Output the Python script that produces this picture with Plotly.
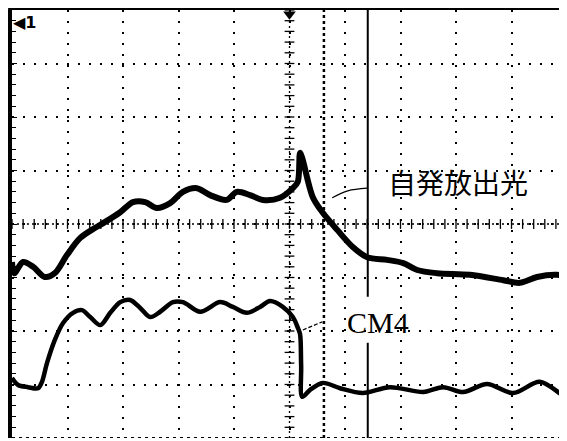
import plotly.graph_objects as go

# Horizontal position in divisions (0..10), vertical in divisions from centre (-4..4)
emission_t = [0, 0.04, 0.20, 0.38, 0.59, 0.77, 0.99, 1.23, 1.50, 1.68, 1.95, 2.18, 2.40, 2.61,
              2.85, 3.08, 3.33, 3.57, 3.87, 4.05, 4.29, 4.52, 4.83, 5.06, 5.15, 5.19, 5.23,
              5.42, 5.60, 5.86, 6.14, 6.40, 6.76, 7.05, 7.30, 7.66, 8.25, 8.85, 9.15, 9.46,
              9.82, 10.0]
emission_v = [-0.71, -0.92, -0.71, -0.80, -0.99, -0.92, -0.58, -0.26, -0.07, 0.04, 0.22, 0.41,
              0.41, 0.30, 0.39, 0.60, 0.67, 0.54, 0.45, 0.60, 0.54, 0.45, 0.49, 0.67, 0.79,
              1.33, 1.23, 0.50, 0.21, -0.11, -0.43, -0.62, -0.67, -0.73, -0.86, -0.92, -0.95,
              -1.05, -1.10, -0.99, -0.95, -0.99]

cm4_t = [0, 0.11, 0.29, 0.47, 0.54, 0.63, 0.77, 0.92, 1.10, 1.26, 1.41, 1.59, 1.77, 1.95,
         2.13, 2.31, 2.49, 2.67, 2.90, 3.08, 3.39, 3.75, 3.98, 4.23, 4.47, 4.65, 4.88, 5.06,
         5.15, 5.19, 5.21, 5.23, 5.37, 5.60, 5.91, 6.32, 6.81, 7.41, 7.77, 8.13, 8.56, 9.03,
         9.51, 9.93, 10.0]
cm4_v = [-2.88, -3.01, -3.05, -3.07, -2.95, -2.60, -2.17, -1.85, -1.66, -1.61, -1.74, -1.89,
         -1.66, -1.46, -1.42, -1.57, -1.74, -1.64, -1.46, -1.46, -1.64, -1.46, -1.55, -1.66,
         -1.55, -1.44, -1.55, -1.74, -1.94, -2.06, -2.65, -3.23, -3.10, -2.97, -3.07, -3.16,
         -3.05, -3.14, -3.05, -3.14, -2.99, -3.16, -2.95, -3.20, -3.21]

label_emission = "自発放出光"
label_cm4 = "CM4"
cursor_dotted_t = 5.62
cursor_solid_t = 6.41

X_DIV = 10
Y_DIV = 4

fig = go.Figure()

# centre graticule minor ticks
minor = [i / 5 for i in range(0, 5 * X_DIV + 1)]
minor_y = [-Y_DIV + i / 5 for i in range(0, 10 * Y_DIV + 1)]
fig.add_trace(go.Scatter(x=minor, y=[0] * len(minor), mode="markers",
                         marker=dict(symbol="line-ns", size=7, line=dict(width=1.3, color="black")),
                         hoverinfo="skip", showlegend=False))
fig.add_trace(go.Scatter(x=[5] * len(minor_y), y=minor_y, mode="markers",
                         marker=dict(symbol="line-ew", size=7, line=dict(width=1.3, color="black")),
                         hoverinfo="skip", showlegend=False))

# traces
fig.add_trace(go.Scatter(x=emission_t, y=emission_v, mode="lines",
                         line=dict(color="black", width=6, shape="spline", smoothing=0.9),
                         showlegend=False))
fig.add_trace(go.Scatter(x=cm4_t, y=cm4_v, mode="lines",
                         line=dict(color="black", width=4.5, shape="spline", smoothing=0.9),
                         showlegend=False))

# leader lines
fig.add_trace(go.Scatter(x=[5.77, 6.05, 6.40], y=[0.49, 0.62, 0.67], mode="lines",
                         line=dict(color="black", width=1.2, shape="spline"),
                         showlegend=False, hoverinfo="skip"))
fig.add_trace(go.Scatter(x=[5.24, 5.59], y=[-1.98, -1.83], mode="lines",
                         line=dict(color="black", width=1.2, dash="4px,2px"),
                         showlegend=False, hoverinfo="skip"))

# trigger marker
fig.add_trace(go.Scatter(x=[5], y=[3.92], mode="markers",
                         marker=dict(symbol="triangle-down", size=11, color="black"),
                         cliponaxis=False, showlegend=False, hoverinfo="skip"))

shapes = [
    # cursors
    dict(type="line", x0=cursor_dotted_t, x1=cursor_dotted_t, y0=-Y_DIV, y1=Y_DIV,
         line=dict(color="black", width=2.5, dash="3px,3px")),
    dict(type="line", x0=cursor_solid_t, x1=cursor_solid_t, y0=-1.36, y1=Y_DIV,
         line=dict(color="black", width=2)),
    dict(type="line", x0=cursor_solid_t, x1=cursor_solid_t, y0=-Y_DIV, y1=-2.22,
         line=dict(color="black", width=2)),
    # centre lines (dense dots)
    dict(type="line", x0=0, x1=X_DIV, y0=0, y1=0,
         line=dict(color="black", width=1.3, dash="2px,3px")),
    dict(type="line", x0=5, x1=5, y0=-Y_DIV, y1=Y_DIV,
         line=dict(color="black", width=1.3, dash="2px,3px")),
    # frame: top (thick) and bottom (dotted)
    dict(type="line", xref="paper", yref="paper", x0=-0.007, x1=1, y0=1.004, y1=1.004,
         line=dict(color="black", width=3.5)),
    dict(type="line", x0=0, x1=X_DIV, y0=-Y_DIV, y1=-Y_DIV,
         line=dict(color="black", width=2, dash="3px,4px")),
]

annotations = [
    dict(x=8.04, y=0.79, text=label_emission, showarrow=False,
         font=dict(family="Noto Sans CJK JP", size=28, color="black")),
    dict(x=6.59, y=-1.85, text=label_cm4, showarrow=False,
         font=dict(family="Liberation Serif", size=30, color="black")),
    dict(x=0.22, y=3.76, text="<b>◀1</b>", showarrow=False,
         font=dict(family="DejaVu Sans", size=16, color="black")),
]

# the page body adds an 8px margin, so the figure is 8px smaller than the window
fig.update_layout(
    width=559, height=433,
    margin=dict(l=4, r=0, t=2, b=3),
    paper_bgcolor="white", plot_bgcolor="white",
    shapes=shapes, annotations=annotations,
    xaxis=dict(range=[0, X_DIV], dtick=1, tick0=0, showgrid=True, gridcolor="black",
               gridwidth=1.5, griddash="2px,9px", zeroline=False, showticklabels=False,
               showline=False, ticks=""),
    yaxis=dict(range=[-Y_DIV, Y_DIV], dtick=1, tick0=0, showgrid=True, gridcolor="black",
               gridwidth=1.5, griddash="2px,9px", zeroline=False, showticklabels=False,
               showline=True, linewidth=4, linecolor="black",
               ticks="inside", ticklen=5, tickcolor="black",
               minor=dict(dtick=0.2, ticks="inside", ticklen=4, tickcolor="black")),
)

fig.write_html("out.html")
